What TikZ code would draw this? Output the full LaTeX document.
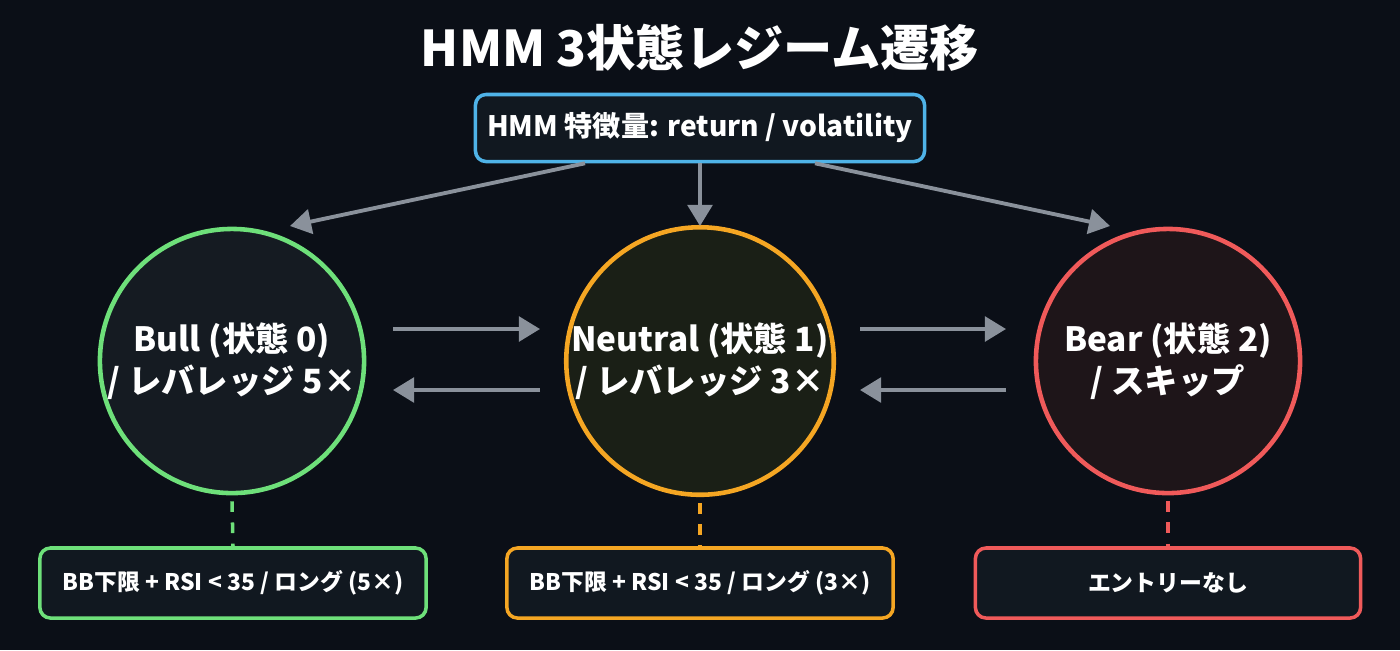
\documentclass[tikz,border=0pt]{standalone}
\usepackage{fontspec}
\setmainfont{Noto Sans CJK JP}
\usetikzlibrary{positioning}
\usetikzlibrary{calc}
\usetikzlibrary{arrows.meta}
\definecolor{bgdark}{HTML}{0B0F17}
\definecolor{boxfill}{HTML}{111820}
\definecolor{topblue}{HTML}{4FB3E8}
\definecolor{bullgreen}{HTML}{6EE07A}
\definecolor{neutorange}{HTML}{F5A623}
\definecolor{bearred}{HTML}{F05A5A}
\definecolor{linegrey}{HTML}{8A919B}
\begin{document}
\begin{tikzpicture}[x=0.01cm,y=-0.01cm,
			>={Triangle[length=6pt,width=7pt]},
			flow/.style={->,draw=linegrey,line width=1.1pt},
			regime/.style={circle,line width=1.3pt,minimum size=2.64cm,inner sep=0pt,text=white,
				font=\bfseries\fontsize{9.5}{12}\selectfont,align=center},
			infobox/.style={draw,rounded corners=3pt,line width=1pt,fill=boxfill,
				text=white,font=\bfseries,align=center},
			link/.style={dashed,line width=1pt}]
			\useasboundingbox (0,0) rectangle (1400,650);
			\fill[bgdark] (0,0) rectangle (1400,650);
			
			\node[text=white,font=\bfseries\fontsize{14}{16}\selectfont] (title) at (700,48) {HMM 3状態レジーム遷移};
			\node[infobox,draw=topblue,minimum width=4.43cm,minimum height=0.67cm,
				font=\bfseries\fontsize{8}{10}\selectfont] (hmm) at (700,128) {HMM 特徴量: return / volatility};
			
			\node[regime,draw=bullgreen,fill={rgb,255:red,21;green,27;blue,34}]  (bull) at (232,361) {Bull (状態 0)\\/ レバレッジ 5×};
			\node[regime,draw=neutorange,fill={rgb,255:red,26;green,31;blue,22}] (neutral) at (700,361) {Neutral (状態 1)\\/ レバレッジ 3×};
			\node[regime,draw=bearred,fill={rgb,255:red,30;green,21;blue,25}]    (bear) at (1168,361) {Bear (状態 2)\\/ スキップ};
			
			\node[infobox,draw=bullgreen,minimum width=3.86cm,minimum height=0.7cm,
				font=\bfseries\fontsize{6.5}{8}\selectfont] (bullrule) at (233,583) {BB下限 + RSI < 35 / ロング (5×)};
			\node[infobox,draw=neutorange,minimum width=3.86cm,minimum height=0.7cm,
				font=\bfseries\fontsize{6.5}{8}\selectfont] (neutrule) at (700,583) {BB下限 + RSI < 35 / ロング (3×)};
			\node[infobox,draw=bearred,minimum width=3.85cm,minimum height=0.7cm,
				font=\bfseries\fontsize{6.5}{8}\selectfont] (bearrule) at (1168,583) {エントリーなし};
			
			% arrows from the feature box
			\coordinate (toBull) at (290,226);
			\coordinate (toNeut) at (700,226);
			\coordinate (toBear) at (1110,226);
			\draw[flow] (hmm.south -| 585,0) -- (toBull);
			\draw[flow] (hmm.south) -- (toNeut);
			\draw[flow] (hmm.south -| 815,0) -- (toBear);
			
			% transitions between regimes
			\coordinate (bullOut) at (393,329);
			\coordinate (bullIn) at (393,390);
			\coordinate (neutInL) at (540,329);
			\coordinate (neutOutL) at (540,390);
			\coordinate (neutOutR) at (860,329);
			\coordinate (neutInR) at (860,390);
			\coordinate (bearIn) at (1006,329);
			\coordinate (bearOut) at (1006,390);
			\draw[flow] (bullOut) -- (neutInL);
			\draw[flow] (neutOutL) -- (bullIn);
			\draw[flow] (neutOutR) -- (bearIn);
			\draw[flow] (bearOut) -- (neutInR);
			
			% links to entry rules
			\draw[link,bullgreen] ($(bull.south)+(0,6)$) -- (bullrule.north);
			\draw[link,neutorange] ($(neutral.south)+(0,6)$) -- (neutrule.north);
			\draw[link,bearred] ($(bear.south)+(0,6)$) -- (bearrule.north);
\end{tikzpicture}
\end{document}
